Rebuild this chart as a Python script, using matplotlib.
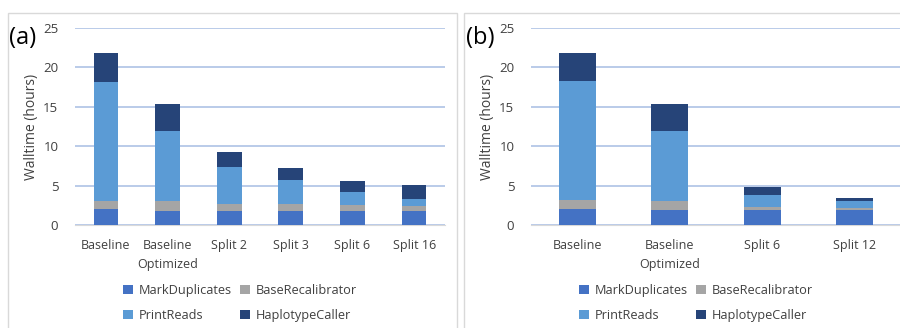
import numpy as np
import matplotlib.pyplot as plt
from matplotlib.patches import Rectangle

plt.rcParams['font.family'] = ['Open Sans', 'DejaVu Sans']

# --- data (hours) ---
stages = ["MarkDuplicates", "BaseRecalibrator", "PrintReads", "HaplotypeCaller"]
colors = ["#4472C4", "#A5A5A5", "#5B9BD5", "#264478"]

cats_a = ["Baseline", "Baseline\nOptimized", "Split 2", "Split 3", "Split 6", "Split 16"]
markdup_a = [2.0, 1.82, 1.82, 1.82, 1.82, 1.82]
baserecal_a = [1.1, 1.23, 0.8, 0.85, 0.68, 0.55]
printreads_a = [15.1, 8.9, 4.74, 3.0, 1.69, 0.89]
haplo_a = [3.6, 3.43, 1.86, 1.52, 1.44, 1.78]

cats_b = ["Baseline", "Baseline\nOptimized", "Split 6", "Split 12"]
markdup_b = [2.0, 1.9, 1.9, 1.9]
baserecal_b = [1.15, 1.18, 0.34, 0.21]
printreads_b = [15.1, 8.87, 1.56, 0.97]
haplo_b = [3.55, 3.42, 1.01, 0.38]

W, H = 900, 328
fig = plt.figure(figsize=(W / 100, H / 100), dpi=100)

# panel frames
for x0, w in [(8, 449), (464, 445)]:
    fig.patches.append(Rectangle((x0 / W, -0.1), w / W, 1 - 13 / H + 0.1,
                                 transform=fig.transFigure, fill=False,
                                 edgecolor="#D9D9D9", linewidth=1))

def draw(ax, cats, series, tag, tag_x, leg_x):
    x = np.arange(len(cats))
    bottom = np.zeros(len(cats))
    handles = []
    for vals, c, name in zip(series, colors, stages):
        h = ax.bar(x, vals, 0.4, bottom=bottom, color=c, label=name, zorder=3)
        handles.append(h)
        bottom += np.array(vals)
    ax.set_xlim(-0.5, len(cats) - 0.5)
    ax.set_ylim(0, 25)
    ax.set_yticks([0, 5, 10, 15, 20, 25])
    ax.grid(axis="y", color="#B4C7E7", linewidth=1.3, zorder=0)
    for s in ["top", "right", "left"]:
        ax.spines[s].set_visible(False)
    ax.spines["bottom"].set_color("#D9D9D9")
    ax.tick_params(axis="y", length=0, labelsize=9.5, colors="#404040", pad=12)
    ax.tick_params(axis="x", length=0, labelsize=9, colors="#404040", pad=10)
    ax.set_xticks(x)
    ax.set_xticklabels(cats, linespacing=1.6)
    ax.set_ylabel("Walltime (hours)", fontsize=10, color="#404040")
    ax.yaxis.set_label_coords(-0.097, 0.5)
    fig.text(tag_x / W, 1 - 38 / H, tag, fontsize=17, va="center", ha="left")
    # row-wise legend order
    order = [0, 2, 1, 3]
    fig.legend([handles[i] for i in order], [stages[i] for i in order],
               ncol=2, loc="center left", bbox_to_anchor=(leg_x / W, 1 - 303 / H),
               frameon=False, fontsize=9.2, handlelength=0.75, handleheight=0.75,
               handletextpad=0.45, columnspacing=0.7, labelspacing=0.95,
               labelcolor="#404040", borderpad=0, borderaxespad=0)

ax1 = fig.add_axes([75 / W, 1 - 225 / H, 370 / W, 197 / H])
ax2 = fig.add_axes([531 / W, 1 - 225 / H, 370 / W, 197 / H])
draw(ax1, cats_a, [markdup_a, baserecal_a, printreads_a, haplo_a], "(a)", 9, 123)
draw(ax2, cats_b, [markdup_b, baserecal_b, printreads_b, haplo_b], "(b)", 466, 579)

fig.savefig("out.png", dpi=100)
